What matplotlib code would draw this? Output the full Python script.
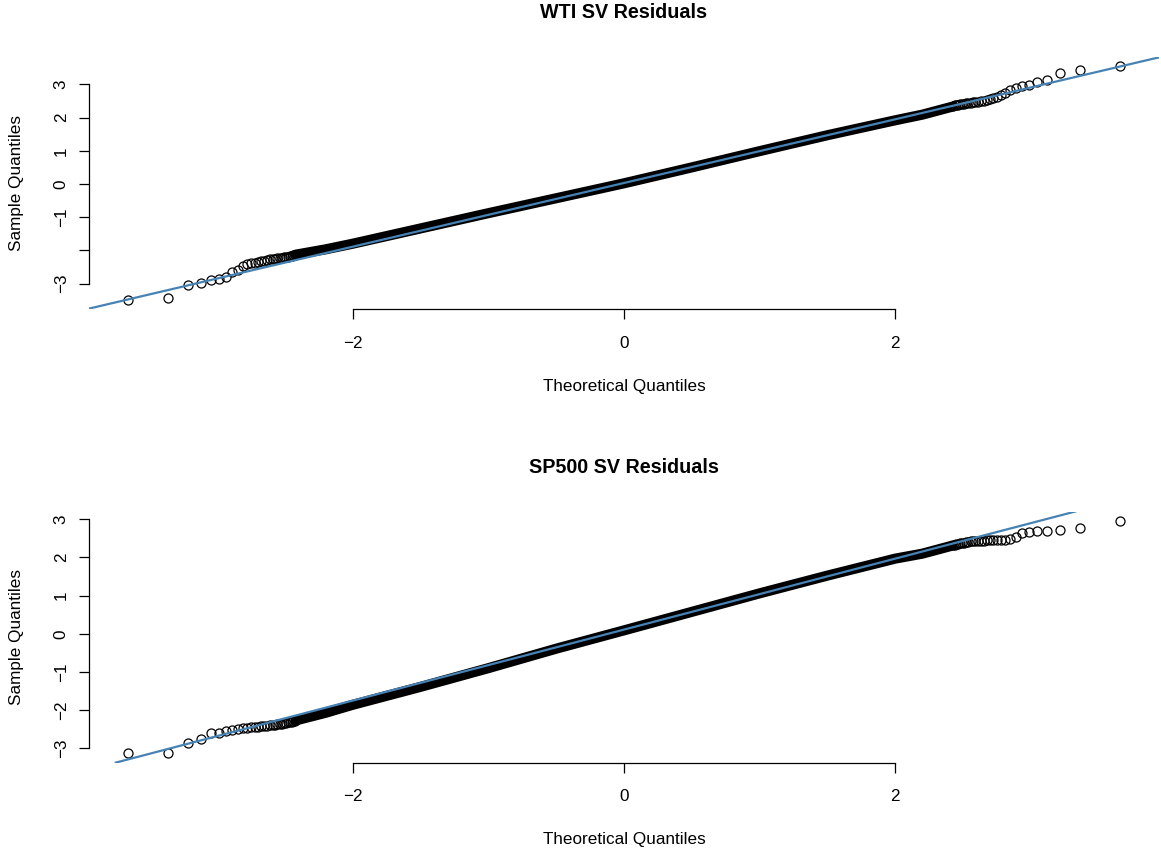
import matplotlib
matplotlib.use("Agg")
import matplotlib.pyplot as plt
from statistics import NormalDist

plt.rcParams['font.family'] = ['Liberation Sans', 'DejaVu Sans']

# ---------------- data ----------------
n_obs = 3860                     # sample size (ppoints -> theoretical quantiles)
titles = ["WTI SV Residuals", "SP500 SV Residuals"]
x_label = "Theoretical Quantiles"
y_label = "Sample Quantiles"
x_ticks = [-2, 0, 2]
x_tick_labels = ["\u22122", "0", "2"]
y_ticks = [-3, -2, -1, 0, 1, 2, 3]
wti_ytick_labels = ["\u22123", "", "\u22121", "0", "1", "2", "3"]
sp_ytick_labels = ["\u22123", "\u22122", "\u22121", "0", "1", "2", "3"]

# sample values of the 30 smallest (rank 1 = min) and 30 largest (rank 1 = max)
wti_low_tail = [-3.50, -3.45, -3.05, -2.99, -2.89, -2.86, -2.79, -2.66, -2.59, -2.47,
                -2.42, -2.39, -2.37, -2.35, -2.33, -2.31, -2.29, -2.27, -2.26, -2.25,
                -2.24, -2.23, -2.22, -2.21, -2.20, -2.19, -2.18, -2.16, -2.15, -2.14]
wti_high_tail = [3.55, 3.43, 3.33, 3.14, 3.06, 2.99, 2.95, 2.89, 2.82, 2.75,
                 2.68, 2.62, 2.58, 2.55, 2.53, 2.51, 2.49, 2.48, 2.47, 2.46,
                 2.45, 2.44, 2.43, 2.42, 2.41, 2.40, 2.39, 2.38, 2.37, 2.36]
# dense central part (theoretical quantile, sample quantile)
wti_band_q = [-2.42, -2.2, -2.0, -1.5, -1.0, -0.5, 0.0, 0.5, 1.0, 1.5, 2.0, 2.2, 2.42]
wti_band_s = [-2.13, -1.97, -1.80, -1.34, -0.88, -0.43, 0.02, 0.50, 0.99, 1.47, 1.92, 2.09, 2.33]
wti_line = (0.03, 0.96)          # qqline intercept, slope

sp_low_tail = [-3.13, -3.13, -2.87, -2.76, -2.61, -2.59, -2.54, -2.52, -2.50, -2.47,
               -2.46, -2.45, -2.44, -2.43, -2.42, -2.42, -2.41, -2.40, -2.39, -2.38,
               -2.37, -2.36, -2.35, -2.34, -2.33, -2.32, -2.31, -2.30, -2.29, -2.28]
sp_high_tail = [2.96, 2.77, 2.72, 2.70, 2.69, 2.68, 2.64, 2.53, 2.49, 2.47,
                2.46, 2.46, 2.45, 2.45, 2.45, 2.44, 2.44, 2.44, 2.43, 2.43,
                2.42, 2.41, 2.40, 2.39, 2.38, 2.37, 2.36, 2.35, 2.33, 2.32]
sp_band_q = [-2.42, -2.2, -2.0, -1.5, -1.0, -0.5, 0.0, 0.5, 1.0, 1.5, 2.0, 2.2, 2.42]
sp_band_s = [-2.27, -2.07, -1.86, -1.39, -0.90, -0.39, 0.09, 0.575, 1.06, 1.525, 1.97, 2.10, 2.31]
sp_line = (0.11, 0.93)

# ---------------- figure ----------------
W, H = 1161, 852
fig = plt.figure(figsize=(W / 100, H / 100), dpi=100)

nd = NormalDist()
k_tail = len(wti_low_tail)
q_low = [nd.inv_cdf((i - 0.5) / n_obs) for i in range(1, k_tail + 1)]
q_high = [-q for q in q_low]

panels = [
    dict(title=titles[0], low=wti_low_tail, high=wti_high_tail, bq=wti_band_q, bs=wti_band_s,
         line=wti_line, ylim=(-3.78, 3.83), top=56.9, bot=309.4, ylabels=wti_ytick_labels),
    dict(title=titles[1], low=sp_low_tail, high=sp_high_tail, bq=sp_band_q, bs=sp_band_s,
         line=sp_line, ylim=(-3.374, 3.204), top=511.5, bot=762.6, ylabels=sp_ytick_labels),
]

left_px, right_px = 89, 1159
for p in panels:
    h_px = p["bot"] - p["top"]
    ax = fig.add_axes([left_px / W, (H - p["bot"]) / H, (right_px - left_px) / W, h_px / H])
    ax.set_xlim(-3.944, 3.944)
    ax.set_ylim(*p["ylim"])

    # dense central band of overlapping points
    ax.plot(p["bq"], p["bs"], color="black", lw=7.3, solid_capstyle="round", zorder=2)
    # individual tail points
    ax.plot(q_low, p["low"], "o", mfc="none", mec="black", ms=6.5, mew=0.9, zorder=3)
    ax.plot(q_high, p["high"], "o", mfc="none", mec="black", ms=6.5, mew=0.9, zorder=3)
    # qq line
    a, b = p["line"]
    ax.axline((0, a), slope=b, color="#4682B4", lw=1.6, zorder=4)

    for s in ["top", "right"]:
        ax.spines[s].set_visible(False)
    ax.spines["left"].set_bounds(-3, 3)
    ax.spines["bottom"].set_bounds(-2, 2)
    for s in ["left", "bottom"]:
        ax.spines[s].set_linewidth(0.9)

    ax.set_xticks(x_ticks)
    ax.set_xticklabels(x_tick_labels)
    ax.set_yticks(y_ticks)
    ax.set_yticklabels(p["ylabels"], rotation=90, va="center")
    ax.tick_params(axis="both", direction="out", length=7.5, width=0.9, labelsize=12.3,
                   colors="black")
    ax.tick_params(axis="x", pad=11.5)
    ax.tick_params(axis="y", pad=7)

    ax.set_xlabel(x_label, fontsize=12.3)
    ax.xaxis.label.set_verticalalignment("center")
    ax.xaxis.set_label_coords(0.5, -(387 - 309.4) / 252.5)
    ax.set_ylabel(y_label, fontsize=12.3)
    ax.yaxis.label.set_verticalalignment("center")
    ax.yaxis.set_label_coords((17 - left_px) / (right_px - left_px), 0.5)

    ax.text(0.5, 1 + 44.0 / h_px, p["title"], transform=ax.transAxes, ha="center",
            va="center", fontsize=14.2, fontweight="bold")

fig.savefig("out.png", dpi=100)
